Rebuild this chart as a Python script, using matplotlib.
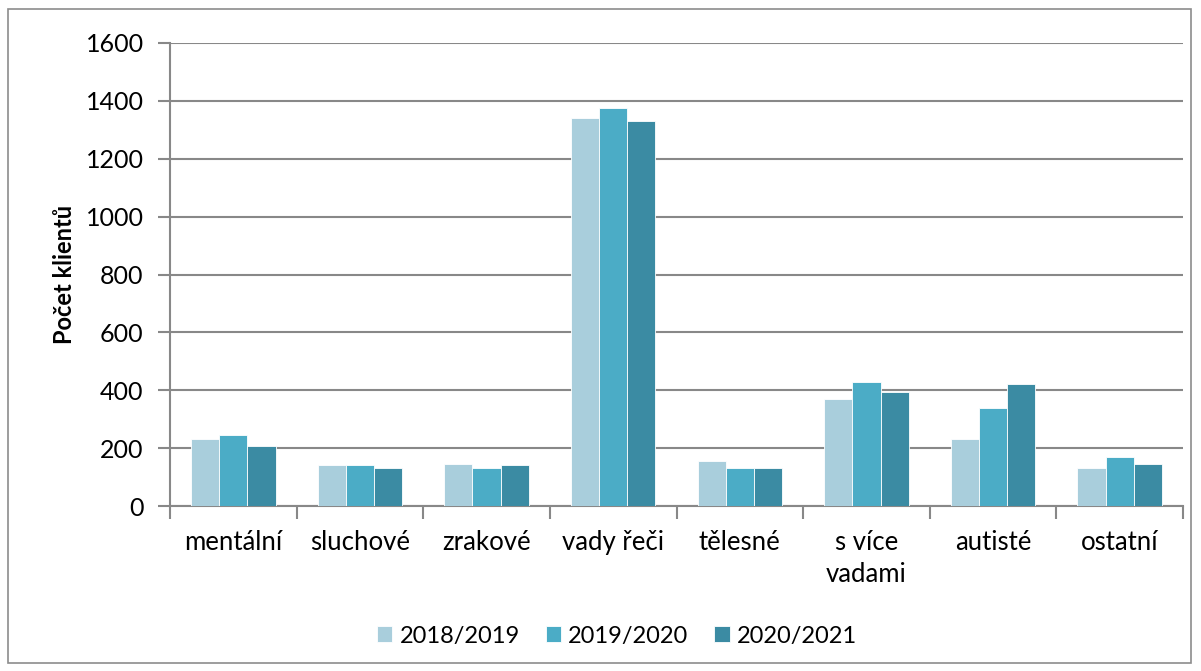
import numpy as np
import matplotlib.pyplot as plt
from matplotlib.patches import Rectangle

# --- data ---
categories = ['mentální', 'sluchové', 'zrakové', 'vady řeči', 'tělesné',
              's více\nvadami', 'autisté', 'ostatní']
series_names = ['2018/2019', '2019/2020', '2020/2021']
v_2018 = [233, 143, 146, 1342, 155, 371, 230, 133]
v_2019 = [245, 143, 130, 1375, 133, 429, 340, 171]
v_2020 = [208, 133, 143, 1331, 130, 394, 422, 144]
colors = ['#A9CEDC', '#4BACC6', '#3B8BA3']

plt.rcParams['font.family'] = ['Lato', 'DejaVu Sans']
grid_col = '#888888'

fig = plt.figure(figsize=(12.01, 6.71), dpi=100)
ax = fig.add_axes([170 / 1201, 1 - 506 / 671, 1013 / 1201, 463 / 671])

# outer frame of the chart area
fig.patches.append(Rectangle((8 / 1201, 8 / 671), 1183 / 1201, 654 / 671,
                             transform=fig.transFigure, fill=False,
                             edgecolor='#8c8c8c', linewidth=1.2))

x = np.arange(len(categories))
bw = 1 / 4.5
for i, (vals, name) in enumerate(zip([v_2018, v_2019, v_2020], series_names)):
    ax.bar(x + (i - 1) * bw, vals, width=bw, color=colors[i], label=name,
           edgecolor='white', linewidth=0.6, zorder=3)

ax.set_xlim(-0.5, len(categories) - 0.5)
ax.set_ylim(0, 1600)
ax.set_yticks(range(0, 1601, 200))
ax.yaxis.grid(True, color=grid_col, linewidth=1.5, zorder=0)
ax.set_axisbelow(True)

ax.set_xticks(x)
ax.set_xticklabels(categories, fontsize=18.5, linespacing=1.35)
ax.set_xticks(np.arange(-0.5, len(categories)), minor=True)
ax.tick_params(axis='x', which='major', length=0, pad=17)
ax.tick_params(axis='x', which='minor', length=9, width=1.5, color=grid_col)
ax.tick_params(axis='y', length=9, width=1.5, color=grid_col, labelsize=18, pad=10)

for s in ['top', 'right']:
    ax.spines[s].set_visible(False)
for s in ['left', 'bottom']:
    ax.spines[s].set_color(grid_col)
    ax.spines[s].set_linewidth(1.5)

ax.set_ylabel('Počet klientů', fontsize=17, fontweight='bold', labelpad=7)

ax.legend(loc='center', bbox_to_anchor=(617 / 1201, 1 - 636 / 671),
          bbox_transform=fig.transFigure, ncol=3, frameon=False,
          fontsize=17, handlelength=0.65, handleheight=0.65,
          handletextpad=0.3, columnspacing=1.1)

fig.savefig('out.png', dpi=100)
